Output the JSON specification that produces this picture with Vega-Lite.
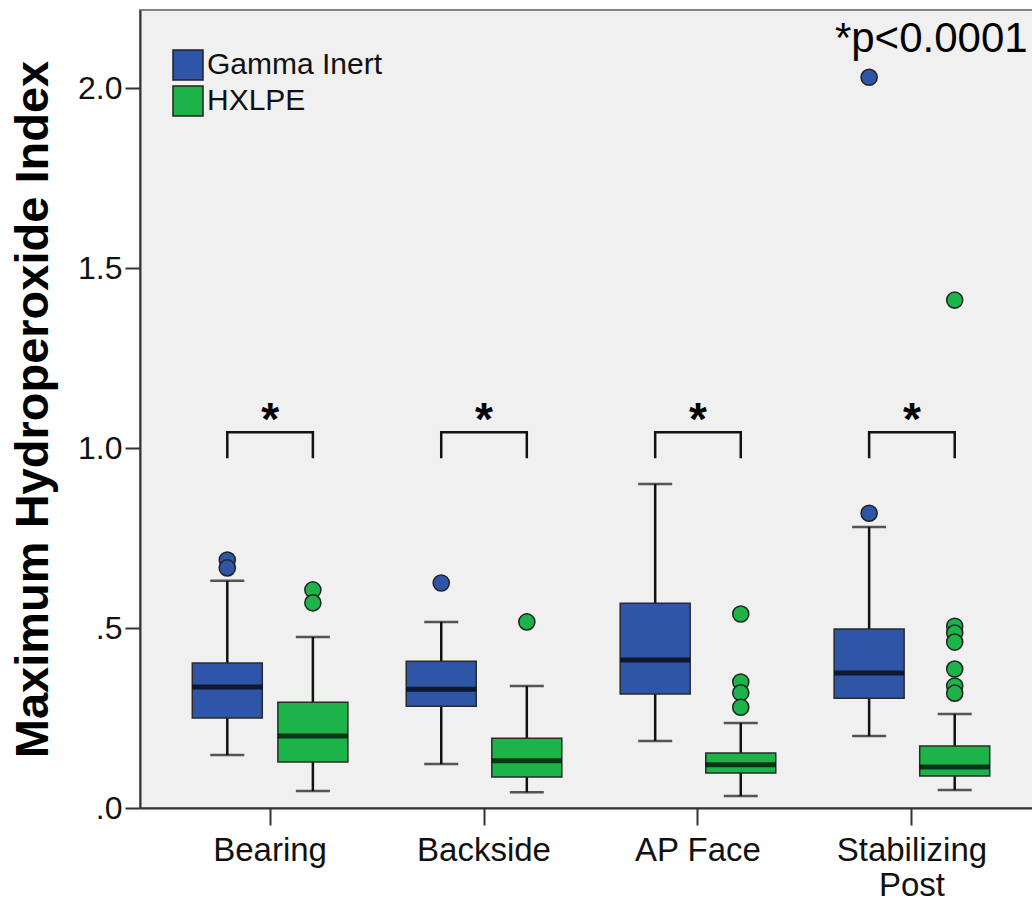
{
  "$schema": "https://vega.github.io/schema/vega-lite/v6.json",
  "autosize": {"type": "none"},
  "padding": {"left": 140, "top": 10, "right": 0, "bottom": 98},
  "width": 902,
  "height": 798,
  "background": "white",
  "config": {
    "font": "Liberation Sans",
    "view": {"fill": "#f0f0f0", "stroke": "#858585", "strokeWidth": 2}
  },
  "datasets": {
    "boxes": [
      {"cat": "Bearing", "group": "Gamma Inert", "lo": 0.147, "q1": 0.25, "med": 0.336, "q3": 0.403, "hi": 0.631},
      {"cat": "Bearing", "group": "HXLPE", "lo": 0.047, "q1": 0.128, "med": 0.2, "q3": 0.294, "hi": 0.475},
      {"cat": "Backside", "group": "Gamma Inert", "lo": 0.122, "q1": 0.283, "med": 0.33, "q3": 0.408, "hi": 0.517},
      {"cat": "Backside", "group": "HXLPE", "lo": 0.044, "q1": 0.086, "med": 0.131, "q3": 0.194, "hi": 0.339},
      {"cat": "AP Face", "group": "Gamma Inert", "lo": 0.186, "q1": 0.317, "med": 0.411, "q3": 0.569, "hi": 0.9},
      {"cat": "AP Face", "group": "HXLPE", "lo": 0.033, "q1": 0.097, "med": 0.12, "q3": 0.153, "hi": 0.236},
      {"cat": "Stabilizing Post", "group": "Gamma Inert", "lo": 0.2, "q1": 0.305, "med": 0.375, "q3": 0.497, "hi": 0.781},
      {"cat": "Stabilizing Post", "group": "HXLPE", "lo": 0.05, "q1": 0.089, "med": 0.114, "q3": 0.172, "hi": 0.261}
    ],
    "outliers": [
      {"cat": "Bearing", "group": "Gamma Inert", "v": 0.689},
      {"cat": "Bearing", "group": "Gamma Inert", "v": 0.667},
      {"cat": "Bearing", "group": "HXLPE", "v": 0.606},
      {"cat": "Bearing", "group": "HXLPE", "v": 0.57},
      {"cat": "Backside", "group": "Gamma Inert", "v": 0.625},
      {"cat": "Backside", "group": "HXLPE", "v": 0.517},
      {"cat": "AP Face", "group": "HXLPE", "v": 0.539},
      {"cat": "AP Face", "group": "HXLPE", "v": 0.35},
      {"cat": "AP Face", "group": "HXLPE", "v": 0.32},
      {"cat": "AP Face", "group": "HXLPE", "v": 0.28},
      {"cat": "Stabilizing Post", "group": "Gamma Inert", "v": 0.819},
      {"cat": "Stabilizing Post", "group": "Gamma Inert", "v": 2.03},
      {"cat": "Stabilizing Post", "group": "HXLPE", "v": 1.411},
      {"cat": "Stabilizing Post", "group": "HXLPE", "v": 0.505},
      {"cat": "Stabilizing Post", "group": "HXLPE", "v": 0.486},
      {"cat": "Stabilizing Post", "group": "HXLPE", "v": 0.461},
      {"cat": "Stabilizing Post", "group": "HXLPE", "v": 0.386},
      {"cat": "Stabilizing Post", "group": "HXLPE", "v": 0.339},
      {"cat": "Stabilizing Post", "group": "HXLPE", "v": 0.319}
    ],
    "brackets": [
      {"cat": "Bearing", "group": "Gamma Inert", "v": 0.972, "ord": 1},
      {"cat": "Bearing", "group": "Gamma Inert", "v": 1.044, "ord": 2},
      {"cat": "Bearing", "group": "HXLPE", "v": 1.044, "ord": 3},
      {"cat": "Bearing", "group": "HXLPE", "v": 0.972, "ord": 4},
      {"cat": "Backside", "group": "Gamma Inert", "v": 0.972, "ord": 1},
      {"cat": "Backside", "group": "Gamma Inert", "v": 1.044, "ord": 2},
      {"cat": "Backside", "group": "HXLPE", "v": 1.044, "ord": 3},
      {"cat": "Backside", "group": "HXLPE", "v": 0.972, "ord": 4},
      {"cat": "AP Face", "group": "Gamma Inert", "v": 0.972, "ord": 1},
      {"cat": "AP Face", "group": "Gamma Inert", "v": 1.044, "ord": 2},
      {"cat": "AP Face", "group": "HXLPE", "v": 1.044, "ord": 3},
      {"cat": "AP Face", "group": "HXLPE", "v": 0.972, "ord": 4},
      {"cat": "Stabilizing Post", "group": "Gamma Inert", "v": 0.972, "ord": 1},
      {"cat": "Stabilizing Post", "group": "Gamma Inert", "v": 1.044, "ord": 2},
      {"cat": "Stabilizing Post", "group": "HXLPE", "v": 1.044, "ord": 3},
      {"cat": "Stabilizing Post", "group": "HXLPE", "v": 0.972, "ord": 4}
    ],
    "stars": [
      {"cat": "Bearing", "v": 1.036, "label": "*"},
      {"cat": "Backside", "v": 1.036, "label": "*"},
      {"cat": "AP Face", "v": 1.036, "label": "*"},
      {"cat": "Stabilizing Post", "v": 1.036, "label": "*"}
    ],
    "note": [
      {"cat": "Stabilizing Post", "v": 2.1, "label": "*p<0.0001"}
    ]
  },
  "layer": [
    {
      "data": {"name": "boxes"},
      "mark": {"type": "rule", "color": "#111", "strokeWidth": 2.5},
      "encoding": {
        "x": {
          "field": "cat", "type": "nominal", "title": null,
          "sort": ["Bearing", "Backside", "AP Face", "Stabilizing Post"],
          "scale": {"domain": ["Bearing", "Backside", "AP Face", "Stabilizing Post"], "paddingInner": 0.2, "paddingOuter": 0.208},
          "axis": {
            "labelAngle": 0, "labelFontSize": 33, "labelColor": "#111", "tickSize": 17, "tickWidth": 2, "tickColor": "#333",
            "domainColor": "#333", "domainWidth": 2, "labelPadding": 9, "labelLineHeight": 35, "labelLimit": 400,
            "labelExpr": "datum.label == 'Stabilizing Post' ? ['Stabilizing', 'Post'] : datum.label"
          }
        },
        "xOffset": {"field": "group", "type": "nominal", "scale": {"domain": ["Gamma Inert", "HXLPE"], "paddingInner": 0, "paddingOuter": 0}},
        "y": {
          "field": "lo", "type": "quantitative", "title": "Maximum Hydroperoxide Index",
          "scale": {"domain": [0, 2.217], "nice": false, "zero": true},
          "axis": {
            "values": [0, 0.5, 1, 1.5, 2], "grid": false,
            "labelExpr": "datum.value == 0 ? '.0' : (datum.value == 0.5 ? '.5' : format(datum.value, '.1f'))",
            "labelFontSize": 32, "labelColor": "#111", "tickSize": 15, "tickWidth": 2, "tickColor": "#333",
            "domainColor": "#333", "domainWidth": 2, "labelPadding": 3,
            "titleFontSize": 47, "titleFontWeight": "bold", "titleColor": "#000", "titlePadding": 20, "titleLimit": 900
          }
        },
        "y2": {"field": "hi"}
      }
    },
    {
      "data": {"name": "boxes"},
      "mark": {"type": "tick", "color": "#111", "size": 34, "thickness": 2.5},
      "encoding": {
        "x": {"field": "cat", "type": "nominal", "title": null},
        "xOffset": {"field": "group", "type": "nominal"},
        "y": {"field": "lo", "type": "quantitative", "title": "Maximum Hydroperoxide Index"}
      }
    },
    {
      "data": {"name": "boxes"},
      "mark": {"type": "tick", "color": "#111", "size": 34, "thickness": 2.5},
      "encoding": {
        "x": {"field": "cat", "type": "nominal", "title": null},
        "xOffset": {"field": "group", "type": "nominal"},
        "y": {"field": "hi", "type": "quantitative", "title": "Maximum Hydroperoxide Index"}
      }
    },
    {
      "data": {"name": "boxes"},
      "mark": {"type": "bar", "size": 70, "stroke": "#2a2a2a", "strokeWidth": 1.5, "opacity": 1},
      "encoding": {
        "x": {"field": "cat", "type": "nominal", "title": null},
        "xOffset": {"field": "group", "type": "nominal"},
        "y": {"field": "q1", "type": "quantitative", "title": "Maximum Hydroperoxide Index"},
        "y2": {"field": "q3"},
        "color": {
          "field": "group", "type": "nominal",
          "scale": {"domain": ["Gamma Inert", "HXLPE"], "range": ["#2f56a6", "#1cb349"]},
          "legend": {
            "orient": "none", "legendX": 32, "legendY": 39, "title": null, "padding": 0,
            "symbolType": "square", "symbolSize": 900, "symbolStrokeColor": "#222", "symbolStrokeWidth": 1.5,
            "labelFontSize": 30, "labelColor": "#111", "labelOffset": 3, "rowPadding": 0, "labelLimit": 400
          }
        }
      }
    },
    {
      "data": {"name": "boxes"},
      "mark": {"type": "tick", "color": "#000", "size": 70, "thickness": 5},
      "encoding": {
        "x": {"field": "cat", "type": "nominal", "title": null},
        "xOffset": {"field": "group", "type": "nominal"},
        "y": {"field": "med", "type": "quantitative", "title": "Maximum Hydroperoxide Index"}
      }
    },
    {
      "data": {"name": "outliers"},
      "mark": {"type": "circle", "size": 260, "stroke": "#222", "strokeWidth": 1.5, "opacity": 1},
      "encoding": {
        "x": {"field": "cat", "type": "nominal", "title": null},
        "xOffset": {"field": "group", "type": "nominal"},
        "y": {"field": "v", "type": "quantitative", "title": "Maximum Hydroperoxide Index"},
        "color": {"field": "group", "type": "nominal", "legend": null}
      }
    },
    {
      "data": {"name": "brackets"},
      "mark": {"type": "line", "color": "#111", "strokeWidth": 2.5},
      "encoding": {
        "x": {"field": "cat", "type": "nominal", "title": null},
        "xOffset": {"field": "group", "type": "nominal"},
        "y": {"field": "v", "type": "quantitative", "title": "Maximum Hydroperoxide Index"},
        "detail": {"field": "cat"},
        "order": {"field": "ord", "type": "quantitative"}
      }
    },
    {
      "data": {"name": "stars"},
      "mark": {"type": "text", "fontSize": 46, "fontWeight": "bold", "color": "#000", "baseline": "alphabetic", "align": "center"},
      "encoding": {
        "x": {"field": "cat", "type": "nominal", "title": null},
        "y": {"field": "v", "type": "quantitative", "title": "Maximum Hydroperoxide Index"},
        "text": {"field": "label"}
      }
    },
    {
      "data": {"name": "note"},
      "mark": {"type": "text", "fontSize": 42, "color": "#000", "baseline": "alphabetic", "align": "left", "dx": -77},
      "encoding": {
        "x": {"field": "cat", "type": "nominal", "title": null},
        "y": {"field": "v", "type": "quantitative", "title": "Maximum Hydroperoxide Index"},
        "text": {"field": "label"}
      }
    }
  ]
}
